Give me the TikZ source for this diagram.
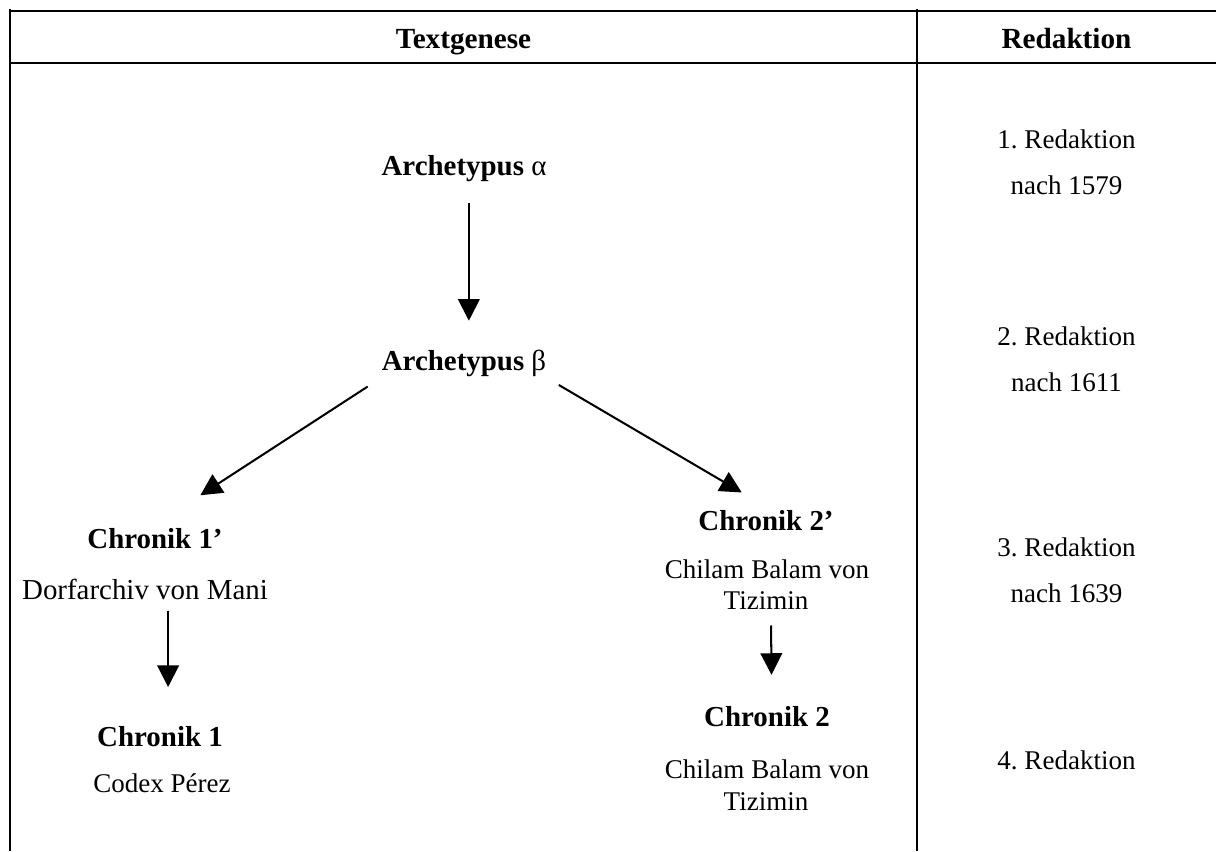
\documentclass[tikz,border=0pt]{standalone}
\usepackage{fontspec}
\setmainfont{Liberation Serif}
\usetikzlibrary{arrows.meta}
\frenchspacing

\begin{document}
\begin{tikzpicture}[x=0.37pt, y=-0.37pt,
  rule/.style={draw=black, line width=1pt},
  arr/.style={draw=black, line width=0.75pt,
              -{Triangle[width=8pt,length=8pt]}},
  hd/.style={anchor=base, inner sep=1pt,
             font=\fontsize{10.8}{13}\selectfont\bfseries},
  ttl/.style={anchor=base, inner sep=1pt,
              font=\fontsize{10.7}{13}\selectfont\bfseries},
  txt/.style={anchor=base, inner sep=1pt,
              font=\fontsize{10}{12}\selectfont}]

\useasboundingbox (0,0) rectangle (1216,851);

% ---- (1) table rules ---------------------------------------------
\draw[rule] (10,11) -- (1216,11);
\draw[rule] (10,63) -- (1216,63);
\draw[rule] (10,9) -- (10,851);
\draw[rule] (917,9) -- (917,851);

% ---- (2) column heads --------------------------------------------
\node[hd] (hgen) at (463.5,48) {Textgenese};
\node[hd] (hred) at (1066.5,48) {Redaktion};

% ---- (3) archetypes ----------------------------------------------
\node[ttl] (alpha) at (464,175) {Archetypus \textmd{α}};
\node[ttl] (beta)  at (464,370) {Archetypus \textmd{β}};

% ---- (4) left branch: Chronik 1' / Chronik 1 ---------------------
\node[ttl] (chr1p) at (155,548) {Chronik 1’};
\node[txt, font=\fontsize{10.7}{13}\selectfont] (dorf) at (145,599)
      {Dorfarchiv von Mani};
\node[ttl] (chr1)  at (160,746) {Chronik 1};
\node[txt] (codex) at (162,792) {Codex Pérez};

% ---- (5) right branch: Chronik 2' / Chronik 2 --------------------
\node[ttl] (chr2p) at (766,530) {Chronik 2’};
\node[txt] (chil2p) at (767,578) {Chilam Balam von};
\node[txt] (tiz2p)  at (766,609) {Tizimin};
\node[ttl] (chr2)  at (767,726) {Chronik 2};
\node[txt] (chil2) at (767,778) {Chilam Balam von};
\node[txt] (tiz2)  at (766,810) {Tizimin};

% ---- (6) redaction column ----------------------------------------
\node[txt] (red1)  at (1066.5,148) {1. Redaktion};
\node[txt] (nach1) at (1066.5,194) {nach 1579};
\node[txt] (red2)  at (1066.5,345) {2. Redaktion};
\node[txt] (nach2) at (1066.5,391) {nach 1611};
\node[txt] (red3)  at (1066.5,556) {3. Redaktion};
\node[txt] (nach3) at (1066.5,602) {nach 1639};
\node[txt] (red4)  at (1066.5,769) {4. Redaktion};

% ---- (7) arrows --------------------------------------------------
\draw[arr, shorten <=6.8pt, shorten >=9.5pt]
     ([xshift=1.8pt]alpha.south) -- ([xshift=1.8pt]beta.north);
\draw[arr, shorten <=4.8pt, shorten >=20pt] (beta.south west) -- (chr1p.north);
\draw[arr, shorten <=4pt, shorten >=10.4pt] (beta.south east) -- (chr2p.north);
\draw[arr, shorten <=3pt, shorten >=13.2pt]
     ([xshift=3pt]dorf.south -| chr1.north) -- ([xshift=3pt]chr1.north);
\draw[arr, shorten <=4.9pt, shorten >=10.3pt]
     ([xshift=1.8pt]tiz2p.south) -- ([xshift=1.8pt]chr2.north);

\end{tikzpicture}
\end{document}
